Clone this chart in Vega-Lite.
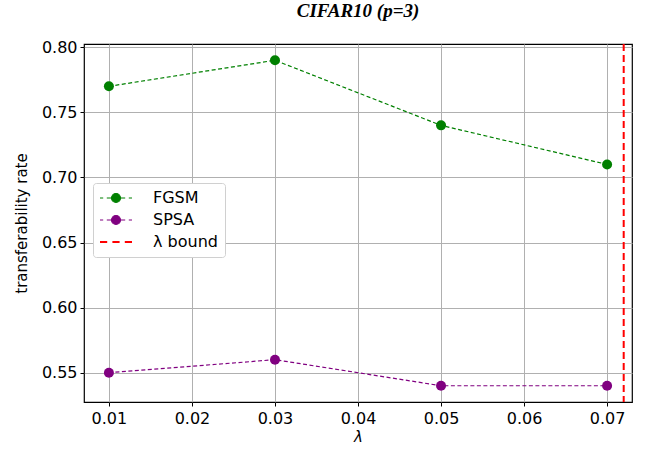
{
  "$schema": "https://vega.github.io/schema/vega-lite/v6.json",
  "autosize": "none",
  "width": 548,
  "height": 358,
  "padding": {"left": 84, "top": 44, "right": 13, "bottom": 48},
  "background": "white",
  "title": {
    "text": "CIFAR10 (p=3)",
    "font": "Liberation Serif",
    "fontStyle": "italic",
    "fontWeight": "bold",
    "fontSize": 19,
    "color": "black",
    "anchor": "middle",
    "offset": 18
  },
  "config": {
    "view": {"stroke": "black", "strokeWidth": 1.2},
    "axis": {
      "labelFont": "DejaVu Sans",
      "labelFontSize": 16,
      "labelColor": "black",
      "titleFont": "DejaVu Sans",
      "titleFontSize": 15,
      "titleFontWeight": "normal",
      "titleColor": "black",
      "tickColor": "black",
      "tickSize": 4,
      "domain": false,
      "gridColor": "#b0b0b0",
      "gridWidth": 1,
      "gridOpacity": 1
    }
  },
  "datasets": {
    "pts": [
      {"lambda": 0.01, "rate": 0.77, "series": "FGSM"},
      {"lambda": 0.03, "rate": 0.79, "series": "FGSM"},
      {"lambda": 0.05, "rate": 0.74, "series": "FGSM"},
      {"lambda": 0.07, "rate": 0.71, "series": "FGSM"},
      {"lambda": 0.01, "rate": 0.55, "series": "SPSA"},
      {"lambda": 0.03, "rate": 0.56, "series": "SPSA"},
      {"lambda": 0.05, "rate": 0.54, "series": "SPSA"},
      {"lambda": 0.07, "rate": 0.54, "series": "SPSA"}
    ],
    "bound": [{"lambda": 0.072, "series": "λ bound"}]
  },
  "layer": [
    {
      "data": {"name": "pts"},
      "mark": {"type": "line", "strokeWidth": 1.2, "strokeDash": [4, 2.5]},
      "encoding": {
        "x": {
          "field": "lambda", "type": "quantitative",
          "scale": {"domain": [0.007, 0.073], "nice": false, "zero": false},
          "axis": {
            "title": "λ", "titleFontStyle": "italic", "titlePadding": 3,
            "values": [0.01, 0.02, 0.03, 0.04, 0.05, 0.06, 0.07],
            "format": ".2f", "labelPadding": 4
          }
        },
        "y": {
          "field": "rate", "type": "quantitative",
          "scale": {"domain": [0.5275, 0.8025], "nice": false, "zero": false},
          "axis": {
            "title": "transferability rate", "titlePadding": 12,
            "values": [0.55, 0.6, 0.65, 0.7, 0.75, 0.8],
            "format": ".2f", "labelPadding": 3
          }
        },
        "color": {
          "field": "series", "type": "nominal",
          "scale": {"domain": ["FGSM", "SPSA", "λ bound"], "range": ["#008000", "#800080", "#ff0000"]},
          "legend": {
            "title": null,
            "orient": "none",
            "legendX": 9,
            "legendY": 139,
            "padding": 7,
            "fillColor": "white",
            "strokeColor": "#d0d0d0",
            "cornerRadius": 3,
            "labelFont": "DejaVu Sans",
            "labelFontSize": 16,
            "labelColor": "black",
            "symbolSize": 256,
            "symbolOffset": 8,
            "labelOffset": 29,
            "rowPadding": 6,
            "encode": {
              "symbols": {
                "update": {
                  "shape": {"signal": "datum.value === 'λ bound' ? 'M-2,0L-1.1,0M-0.45,0L0.45,0M1.1,0L2,0' : 'M-2,0L-1.6,0M-1.15,0L-0.6,0M0.6,0L1.15,0M1.6,0L2,0M-0.56,0A0.56,0.56,0,1,1,0.56,0A0.56,0.56,0,1,1,-0.56,0Z'"},
                  "fill": {"signal": "datum.value === 'λ bound' ? 'transparent' : scale('color', datum.value)"},
                  "stroke": {"signal": "scale('color', datum.value)"},
                  "strokeWidth": {"signal": "datum.value === 'λ bound' ? 2 : 1.2"},
                  "opacity": {"value": 1}
                }
              }
            }
          }
        }
      }
    },
    {
      "data": {"name": "pts"},
      "mark": {"type": "point", "filled": true, "size": 100, "opacity": 1},
      "encoding": {
        "x": {"field": "lambda", "type": "quantitative"},
        "y": {"field": "rate", "type": "quantitative"},
        "color": {"field": "series", "type": "nominal"}
      }
    },
    {
      "data": {"name": "bound"},
      "mark": {"type": "rule", "strokeWidth": 2, "strokeDash": [7, 4]},
      "encoding": {
        "x": {"field": "lambda", "type": "quantitative"},
        "color": {"field": "series", "type": "nominal"}
      }
    }
  ]
}
